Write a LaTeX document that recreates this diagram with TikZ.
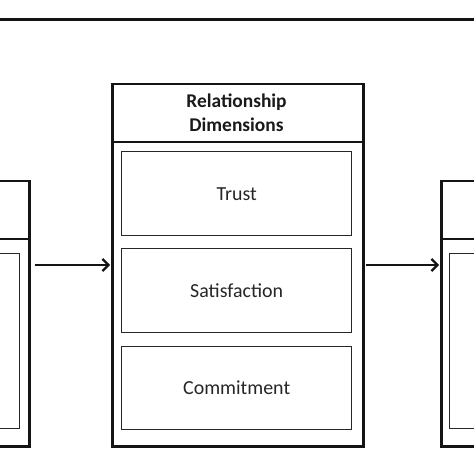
\documentclass[tikz,border=0pt]{standalone}
\usepackage{fontspec}
\setmainfont{Carlito}
\usetikzlibrary{arrows.meta}
\begin{document}
\begin{tikzpicture}[x=1bp,y=-1bp,
  outerbox/.style={draw=black!92,line width=2.5bp,rectangle,inner sep=0pt,anchor=north west},
  innerbox/.style={draw=black!85,line width=1.4bp,rectangle,inner sep=0pt,anchor=north west},
  boxtext/.style={font=\fontsize{20}{24}\selectfont,text=black!85},
  headtext/.style={font=\bfseries\fontsize{19.5}{24}\selectfont,align=center,text=black!90},
  flow/.style={draw=black!92,line width=2.2bp,-{Straight Barb[length=6bp,width=12bp,line width=2.2bp]}}
]
\useasboundingbox (0,0) rectangle (474,474);
\fill[white] (0,0) rectangle (474,474);
\clip (0,0) rectangle (474,474);
% top rule
\coordinate (rl) at (0,20);
\coordinate (rr) at (474,20);
\draw[line width=3bp,black!92] (rl) -- (rr);
% left block
\node[outerbox,minimum width=260bp,minimum height=265bp] (L) at (-232,180) {};
\coordinate (Lh1) at (-232,239);
\coordinate (Lh2) at (28,239);
\draw[line width=2.2bp,black!92] (Lh1) -- (Lh2);
\node[innerbox,minimum width=240bp,minimum height=175bp] (Li) at (-221,253) {};
% center block
\node[outerbox,minimum width=251bp,minimum height=362bp] (C) at (111,83) {};
\coordinate (Ch1) at (111,142);
\coordinate (Ch2) at (362,142);
\draw[line width=2.2bp,black!92] (Ch1) -- (Ch2);
\node[headtext] (Ct) at (236.5,113) {Relationship\\Dimensions};
\node[innerbox,minimum width=230bp,minimum height=84bp] (T) at (121,151) {};
\node[boxtext] (Tt) at (T.center) {Trust};
\node[innerbox,minimum width=230bp,minimum height=84bp] (S) at (121,248) {};
\node[boxtext] (St) at (S.center) {Satisfaction};
\node[innerbox,minimum width=230bp,minimum height=83bp] (M) at (121,346) {};
\node[boxtext] (Mt) at (M.center) {Commitment};
% right block
\node[outerbox,minimum width=260bp,minimum height=265bp] (R) at (440,180) {};
\coordinate (Rh1) at (440,239);
\coordinate (Rh2) at (700,239);
\draw[line width=2.2bp,black!92] (Rh1) -- (Rh2);
\node[innerbox,minimum width=240bp,minimum height=175bp] (Ri) at (449,253) {};
% arrows
\coordinate (a1) at (L.east |- 0,265);
\coordinate (a2) at (C.west |- 0,265);
\coordinate (a3) at (C.east |- 0,265);
\coordinate (a4) at (R.west |- 0,265);
\draw[flow,shorten <=4bp,shorten >=1bp] (a1) -- (a2);
\draw[flow,shorten <=1bp,shorten >=1bp] (a3) -- (a4);
\end{tikzpicture}
\end{document}
